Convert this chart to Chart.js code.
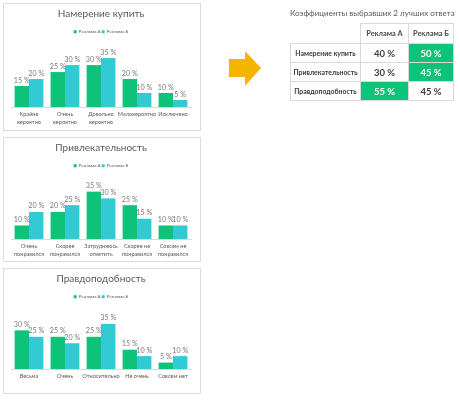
<!DOCTYPE html>
<html><head><meta charset="utf-8">
<script src="https://cdn.jsdelivr.net/npm/chart.js@4.4.1/dist/chart.umd.min.js"></script>
<style>
html,body{margin:0;padding:0;background:#fff}
body{width:460px;height:400px;position:relative;overflow:hidden;font-family:Lato,"Noto Sans",sans-serif}
.panel{position:absolute;left:3px;width:198px;border:1px solid #dcdcdc;box-sizing:border-box;background:#fff}
.panel div{position:relative;width:100%;height:100%}
#ttitle{position:absolute;left:290px;top:8px;width:170px;font-size:8px;color:#5a5a5a;white-space:nowrap}
#tbl{position:absolute;left:290px;top:23px;border-collapse:collapse;font-family:Lato,sans-serif}
#tbl td,#tbl th{border:1px solid #d9d9d9;padding:0;text-align:center;color:#404040}
#tbl th{font-size:7.4px;font-weight:bold;height:19px;color:#4a4a4a}
#tbl th.empty{border:none;border-right:1px solid #d9d9d9;border-bottom:1px solid #d9d9d9}
#tbl td.lab{font-size:6.9px;font-weight:bold;width:69px;height:18px;color:#3a3a3a}
#tbl td.val{font-size:9.5px;font-weight:bold;color:#404040}
#tbl td.hi{background:#0fc27a;color:#fff}
#arrow{position:absolute;left:0;top:0}
</style>
</head><body>
<div class="panel" id="p1" style="top:3px;height:128px"><div><canvas id="c1"></canvas></div></div>
<div class="panel" id="p2" style="top:137px;height:125px"><div><canvas id="c2"></canvas></div></div>
<div class="panel" id="p3" style="top:268px;height:126px"><div><canvas id="c3"></canvas></div></div>
<svg id="arrow" width="460" height="400"><polygon points="229,59 245,59 245,51 261,68 245,86 245,77 229,77" fill="#f5b400"/></svg>
<div id="ttitle"></div>
<table id="tbl"></table>
<script>
// ---- data ----
const seriesNames = ['Реклама А', 'Реклама Б'];
const chartTitles = ['Намерение купить', 'Привлекательность', 'Правдоподобность'];
const cats1 = [['Крайне', 'вероятно'], ['Очень', 'вероятно'], ['Довольно', 'вероятно'], 'Маловероятно', 'Исключено'];
const adA1 = [15, 25, 30, 20, 10];
const adB1 = [20, 30, 35, 10, 5];
const cats2 = [['Очень', 'понравился'], ['Скорее', 'понравился'], ['Затрудняюсь', 'ответить'], ['Скорее не', 'понравился'], ['Совсем не', 'понравился']];
const adA2 = [10, 20, 35, 25, 10];
const adB2 = [20, 25, 30, 15, 10];
const cats3 = ['Весьма', 'Очень', 'Относительно', 'Не очень', 'Совсем нет'];
const adA3 = [30, 25, 25, 15, 5];
const adB3 = [25, 20, 35, 10, 10];
const tableTitle = 'Коэффициенты выбравших 2 лучших ответа';
const tableRows = ['Намерение купить', 'Привлекательность', 'Правдоподобность'];
const tableA = [40, 30, 55];
const tableB = [50, 45, 45];

const GREEN = '#0fc27a', CYAN = '#32cbd4';

const valueLabels = {
  id: 'valueLabels',
  afterDatasetsDraw(chart) {
    const ctx = chart.ctx;
    ctx.save();
    ctx.font = '7.2px Lato, sans-serif';
    ctx.fillStyle = '#7a7a7a';
    ctx.textAlign = 'center';
    ctx.textBaseline = 'alphabetic';
    chart.data.datasets.forEach((ds, di) => {
      chart.getDatasetMeta(di).data.forEach((el, i) => {
        ctx.fillText(ds.data[i] + ' %', el.x, el.y - 3.5);
      });
    });
    ctx.restore();
  }
};

function makeChart(id, title, cats, a, b, axisH, yMax) {
  new Chart(document.getElementById(id), {
    type: 'bar',
    data: {
      labels: cats,
      datasets: [
        { label: seriesNames[0], data: a, backgroundColor: GREEN, categoryPercentage: 0.8, barPercentage: 1 },
        { label: seriesNames[1], data: b, backgroundColor: CYAN, categoryPercentage: 0.8, barPercentage: 1 }
      ]
    },
    options: {
      responsive: true, maintainAspectRatio: false, animation: false,
      layout: { padding: { left: 7, right: 9, top: 0, bottom: 0 } },
      plugins: {
        title: { display: true, text: title, color: '#595959', font: { family: 'Lato', size: 10, weight: 'normal' }, padding: { top: 4, bottom: 8.6 } },
        legend: { position: 'top', labels: { boxWidth: 3, boxHeight: 3, color: '#595959', font: { family: 'Lato', size: 4.5 }, padding: 1 } },
        tooltip: { enabled: false }
      },
      scales: {
        x: { grid: { display: false, drawTicks: false, tickLength: 0 }, border: { color: '#d9d9d9' },
             afterFit: (s) => { s.height = axisH; },
             ticks: { color: '#595959', font: { family: 'Lato', size: 5.6, lineHeight: 1.4 }, maxRotation: 0, autoSkip: false, padding: 3 } },
        y: { display: false, min: 0, max: yMax }
      }
    },
    plugins: [valueLabels]
  });
}
makeChart('c1', chartTitles[0], cats1, adA1, adB1, 23, 45);
makeChart('c2', chartTitles[1], cats2, adA2, adB2, 22, 45);
makeChart('c3', chartTitles[2], cats3, adA3, adB3, 24, 46.5);

// table
document.getElementById('ttitle').textContent = tableTitle;
const tbl = document.getElementById('tbl');
let html = '<tr><th class="empty"></th><th style="width:47px">' + seriesNames[0] + '</th><th style="width:44px">' + seriesNames[1] + '</th></tr>';
tableRows.forEach((r, i) => {
  const aHi = tableA[i] > tableB[i];
  html += '<tr><td class="lab">' + r + '</td><td class="val' + (aHi ? ' hi' : '') + '">' + tableA[i] + ' %</td><td class="val' + (!aHi ? ' hi' : '') + '">' + tableB[i] + ' %</td></tr>';
});
tbl.innerHTML = html;
</script>
</body></html>
